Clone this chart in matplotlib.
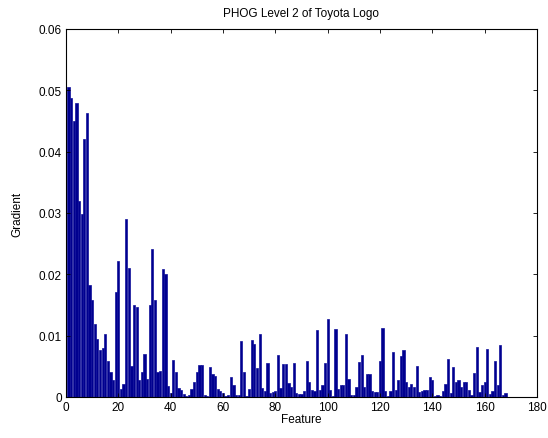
import matplotlib
matplotlib.use("Agg")
import matplotlib.pyplot as plt
import numpy as np

plt.rcParams['font.family'] = ['Liberation Sans', 'DejaVu Sans']
plt.rcParams['font.size'] = 8

# PHOG level 2 histogram, 168 features
gradient = [
    0.0506, 0.0488, 0.0450, 0.0479, 0.0319, 0.0298, 0.0421, 0.0463, 0.0183, 0.0158,
    0.0119, 0.0095, 0.0077, 0.0080, 0.0102, 0.0058, 0.0040, 0.0028, 0.0171, 0.0221,
    0.0013, 0.0022, 0.0290, 0.0210, 0.0050, 0.0150, 0.0147, 0.0027, 0.0040, 0.0070,
    0.0030, 0.0150, 0.0242, 0.0158, 0.0040, 0.0043, 0.0209, 0.0200, 0.0018, 0.0006,
    0.0060, 0.0041, 0.0015, 0.0012, 0.0005, 0.0002, 0.0004, 0.0013, 0.0025, 0.0040,
    0.0052, 0.0052, 0.0003, 0.0001, 0.0049, 0.0038, 0.0035, 0.0013, 0.0010, 0.0007,
    0.0002, 0.0003, 0.0032, 0.0019, 0.0004, 0.0003, 0.0092, 0.0040, 0.0002, 0.0013,
    0.0093, 0.0087, 0.0048, 0.0103, 0.0014, 0.0010, 0.0055, 0.0007, 0.0008, 0.0010,
    0.0068, 0.0014, 0.0054, 0.0054, 0.0023, 0.0016, 0.0055, 0.0006, 0.0005, 0.0005,
    0.0010, 0.0058, 0.0025, 0.0011, 0.0010, 0.0109, 0.0011, 0.0020, 0.0055, 0.0127,
    0.0012, 0.0002, 0.0111, 0.0013, 0.0020, 0.0020, 0.0103, 0.0029, 0.0004, 0.0003,
    0.0017, 0.0057, 0.0069, 0.0017, 0.0037, 0.0037, 0.0010, 0.0008, 0.0008, 0.0058,
    0.0113, 0.0010, 0.0002, 0.0010, 0.0074, 0.0012, 0.0027, 0.0067, 0.0077, 0.0024,
    0.0016, 0.0021, 0.0016, 0.0051, 0.0008, 0.0009, 0.0011, 0.0012, 0.0032, 0.0027,
    0.0002, 0.0003, 0.0002, 0.0010, 0.0021, 0.0062, 0.0007, 0.0049, 0.0024, 0.0027,
    0.0016, 0.0024, 0.0025, 0.0011, 0.0003, 0.0039, 0.0081, 0.0008, 0.0020, 0.0025,
    0.0078, 0.0005, 0.0010, 0.0058, 0.0020, 0.0084, 0.0003, 0.0006,
]
feature = np.arange(1, len(gradient) + 1)

xticks = [0, 20, 40, 60, 80, 100, 120, 140, 160, 180]
yticks = [0, 0.01, 0.02, 0.03, 0.04, 0.05, 0.06]
ytick_labels = ['0', '0.01', '0.02', '0.03', '0.04', '0.05', '0.06']

fig = plt.figure(figsize=(5.48, 4.39), dpi=100)
ax = fig.add_axes([0.1204, 0.0934, 0.8595, 0.8383])

ax.bar(feature, gradient, width=0.85, color='#00008F', edgecolor='#10109A', linewidth=0.5)

ax.set_xlim(0, 180)
ax.set_ylim(0, 0.06)
ax.set_xticks(xticks)
ax.set_yticks(yticks)
ax.set_yticklabels(ytick_labels)
ax.tick_params(direction='in', top=True, right=True, length=3, width=0.6, pad=3,
               labelsize=8.5)
for s in ax.spines.values():
    s.set_linewidth(0.8)

ax.set_title('PHOG Level 2 of Toyota Logo', fontsize=8.5, pad=9)
ax.set_xlabel('Feature', fontsize=8.5, labelpad=0)
ax.set_ylabel('Gradient', fontsize=8.5, labelpad=11)

fig.savefig('out.png', dpi=100)
